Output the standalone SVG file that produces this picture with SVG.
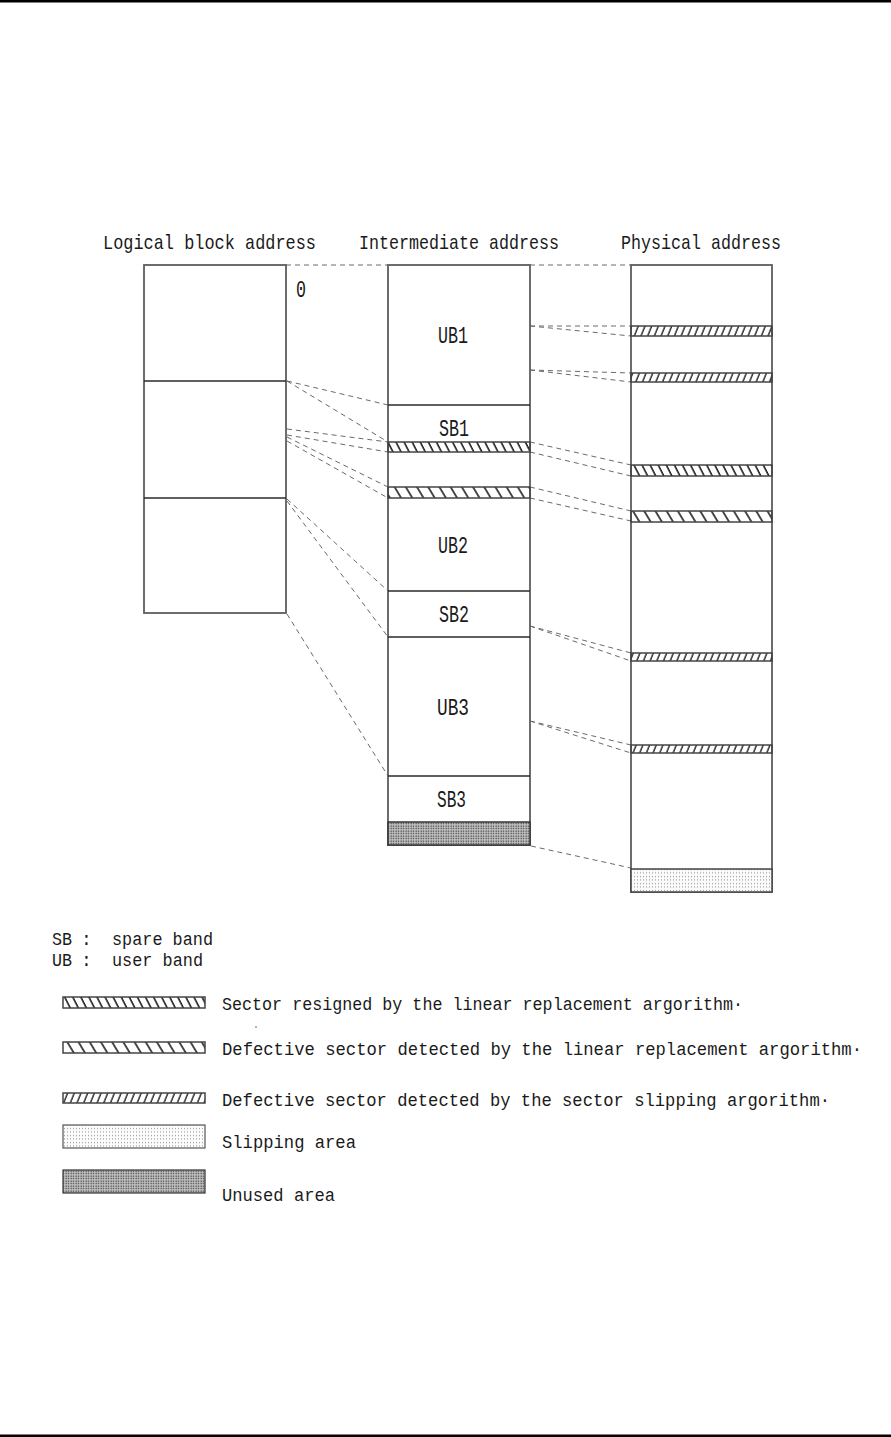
<svg xmlns="http://www.w3.org/2000/svg" width="891" height="1437" viewBox="0 0 891 1437">
<style>
text{font-family:"Liberation Mono","DejaVu Sans Mono",monospace;fill:#1a1a1a}
.hd{font-size:21px}
.lb{font-size:23px}
.lg{font-size:18px}
.col{fill:#fff;stroke:#5f5b62;stroke-width:1.8}
.div{stroke:#2a2a2a;stroke-width:1.5;fill:none}
.band{stroke:#444;stroke-width:1.5}
.cn line{stroke:#6a6a6a;stroke-width:1;stroke-dasharray:5 4;fill:none}
</style>
<defs>
<pattern id="hRes" patternUnits="userSpaceOnUse" width="7.2" height="20" patternTransform="rotate(-27)">
<line x1="1" y1="0" x2="1" y2="20" stroke="#111" stroke-width="1.5"/>
</pattern>
<pattern id="hLin" patternUnits="userSpaceOnUse" width="9.6" height="20" patternTransform="rotate(-31)">
<line x1="1" y1="0" x2="1" y2="20" stroke="#111" stroke-width="1.5"/>
</pattern>
<pattern id="hSlip" patternUnits="userSpaceOnUse" width="6.2" height="20" patternTransform="rotate(22)">
<line x1="1" y1="0" x2="1" y2="20" stroke="#111" stroke-width="1.3"/>
</pattern>
<pattern id="dSlip" patternUnits="userSpaceOnUse" width="3" height="3.5">
<rect width="3" height="3.5" fill="#fbfbfb"/>
<rect x="1" y="1" width="1" height="1" fill="#8a8a8a"/>
</pattern>
<pattern id="dUnused" patternUnits="userSpaceOnUse" width="2.5" height="2.5">
<rect width="2.5" height="2.5" fill="#c8c8c8"/>
<rect x="0.5" y="0.5" width="1.3" height="1.3" fill="#333"/>
</pattern>
</defs>
<rect width="891" height="1437" fill="#fff"/>
<rect id="rule-top" x="0" y="0" width="891" height="2.5" fill="#000"/>
<rect id="rule-bottom" x="0" y="1434.5" width="891" height="2.5" fill="#000"/>

<g id="headers" class="hd">
<text x="103" y="249" textLength="213" lengthAdjust="spacingAndGlyphs">Logical block address</text>
<text x="359" y="249" textLength="200" lengthAdjust="spacingAndGlyphs">Intermediate address</text>
<text x="621" y="249" textLength="160" lengthAdjust="spacingAndGlyphs">Physical address</text>
</g>

<g id="connectors" class="cn">
<line x1="286" y1="265" x2="388" y2="265"/>
<line x1="530" y1="265" x2="631" y2="265"/>
<line x1="287" y1="381" x2="388" y2="405"/>
<line x1="287" y1="381" x2="388" y2="442"/>
<line x1="287" y1="429" x2="388" y2="442"/>
<line x1="287" y1="435" x2="388" y2="452"/>
<line x1="287" y1="437" x2="388" y2="487"/>
<line x1="287" y1="441" x2="388" y2="498"/>
<line x1="287" y1="499" x2="388" y2="591"/>
<line x1="287" y1="501" x2="388" y2="637"/>
<line x1="287" y1="614" x2="388" y2="776"/>
<line x1="530" y1="326" x2="631" y2="326"/>
<line x1="530" y1="326" x2="631" y2="336"/>
<line x1="530" y1="370" x2="631" y2="373"/>
<line x1="530" y1="370" x2="631" y2="382"/>
<line x1="530" y1="442" x2="631" y2="465"/>
<line x1="530" y1="452" x2="631" y2="476"/>
<line x1="530" y1="487" x2="631" y2="511"/>
<line x1="530" y1="498" x2="631" y2="521"/>
<line x1="530" y1="626" x2="631" y2="653"/>
<line x1="530" y1="626" x2="631" y2="661"/>
<line x1="530" y1="721" x2="631" y2="745"/>
<line x1="530" y1="721" x2="631" y2="753"/>
<line x1="531" y1="846" x2="631" y2="868"/>
</g>

<g id="lba">
<rect class="col" x="144" y="265" width="142" height="348"/>
<line class="div" x1="144" y1="381" x2="286" y2="381"/>
<line class="div" x1="144" y1="498" x2="286" y2="498"/>
<text class="lb" x="296" y="297" textLength="10" lengthAdjust="spacingAndGlyphs">0</text>
</g>

<g id="intermediate">
<rect class="col" x="388" y="265" width="142" height="580"/>
<g id="ub1"><text class="lb" x="438" y="343" textLength="30" lengthAdjust="spacingAndGlyphs">UB1</text></g>
<g id="sb1"><line class="div" x1="388" y1="405" x2="530" y2="405"/>
<text class="lb" x="439" y="436" textLength="30" lengthAdjust="spacingAndGlyphs">SB1</text></g>
<rect id="int-resigned" class="band" x="388" y="442" width="142" height="10" fill="url(#hRes)"/>
<rect id="int-defect" class="band" x="388" y="487" width="142" height="11" fill="url(#hLin)"/>
<g id="ub2"><text class="lb" x="438" y="553" textLength="30" lengthAdjust="spacingAndGlyphs">UB2</text></g>
<g id="sb2"><line class="div" x1="388" y1="591" x2="530" y2="591"/>
<line class="div" x1="388" y1="637" x2="530" y2="637"/>
<text class="lb" x="439" y="622" textLength="30" lengthAdjust="spacingAndGlyphs">SB2</text></g>
<g id="ub3"><text class="lb" x="437" y="715" textLength="32" lengthAdjust="spacingAndGlyphs">UB3</text></g>
<g id="sb3"><line class="div" x1="388" y1="776" x2="530" y2="776" stroke="#666"/>
<text class="lb" x="437" y="807" textLength="29" lengthAdjust="spacingAndGlyphs">SB3</text></g>
<rect id="int-unused" x="388" y="822" width="142" height="23" fill="url(#dUnused)" stroke="#333" stroke-width="1.5"/>
</g>

<g id="physical">
<rect class="col" x="631" y="265" width="141" height="627"/>
<rect class="band" x="631" y="326" width="141" height="10" fill="url(#hSlip)"/>
<rect class="band" x="631" y="373" width="141" height="9" fill="url(#hSlip)"/>
<rect class="band" x="631" y="465" width="141" height="11" fill="url(#hRes)"/>
<rect class="band" x="631" y="511" width="141" height="11" fill="url(#hLin)"/>
<rect class="band" x="631" y="653" width="141" height="8" fill="url(#hSlip)"/>
<rect class="band" x="631" y="745" width="141" height="8" fill="url(#hSlip)"/>
<rect id="phys-slipping" x="631" y="869" width="141" height="23" fill="url(#dSlip)" stroke="#444" stroke-width="1.5"/>
</g>

<g id="legend" class="lg">
<g id="leg-sb">
<text x="52" y="945" textLength="20" lengthAdjust="spacingAndGlyphs">SB</text>
<text x="81" y="945">:</text>
<text x="112" y="945" textLength="101" lengthAdjust="spacingAndGlyphs">spare band</text>
</g>
<g id="leg-ub">
<text x="52" y="966" textLength="20" lengthAdjust="spacingAndGlyphs">UB</text>
<text x="81" y="966">:</text>
<text x="112" y="966" textLength="91" lengthAdjust="spacingAndGlyphs">user band</text>
</g>
<g id="leg-resigned">
<rect class="band" x="63" y="997" width="142" height="11" fill="url(#hRes)"/>
<text x="222" y="1010" textLength="521" lengthAdjust="spacingAndGlyphs">Sector resigned by the linear replacement argorithm·</text>
<circle cx="256" cy="1027" r="0.8" fill="#555"/>
</g>
<g id="leg-defect-linear">
<rect class="band" x="63" y="1042" width="142" height="11" fill="url(#hLin)"/>
<text x="222" y="1055" font-size="17.5" textLength="640" lengthAdjust="spacingAndGlyphs">Defective sector detected by the linear replacement argorithm·</text>
</g>
<g id="leg-defect-slip">
<rect class="band" x="63" y="1093" width="142" height="10" fill="url(#hSlip)"/>
<text x="222" y="1106" textLength="608" lengthAdjust="spacingAndGlyphs">Defective sector detected by the sector slipping argorithm·</text>
</g>
<g id="leg-slipping">
<rect x="63" y="1125" width="142" height="23" fill="url(#dSlip)" stroke="#555" stroke-width="1.2"/>
<text x="222" y="1148" textLength="134" lengthAdjust="spacingAndGlyphs">Slipping area</text>
</g>
<g id="leg-unused">
<rect x="63" y="1170" width="142" height="23" fill="url(#dUnused)" stroke="#333" stroke-width="1.2"/>
<text x="222" y="1201" textLength="113" lengthAdjust="spacingAndGlyphs">Unused area</text>
</g>
</g>
</svg>
